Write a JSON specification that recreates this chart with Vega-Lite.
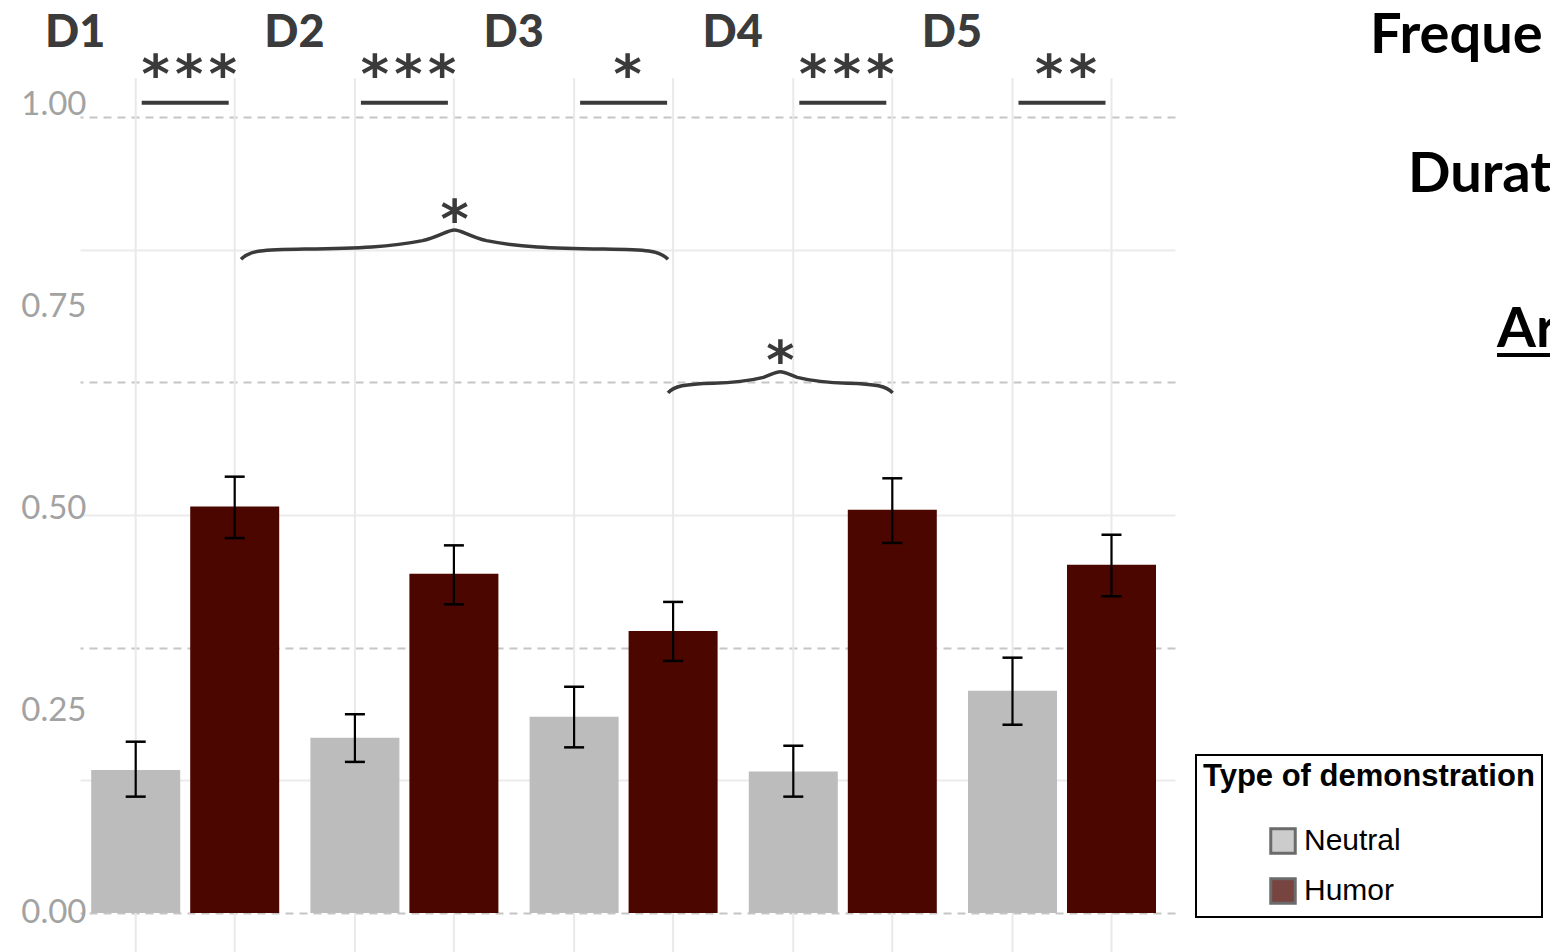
{
  "$schema": "https://vega.github.io/schema/vega-lite/v6.json",
  "autosize": {"type": "none"},
  "padding": {"left": 80, "top": 0, "right": 375, "bottom": 0},
  "width": 1095,
  "height": 952,
  "background": "white",
  "config": {"view": {"stroke": null}, "legend": {"strokeWidth": 2}},
  "datasets": {
    "bars": [
      {"group": "D1", "type": "Neutral", "mean": 0.177, "lo": 0.144, "hi": 0.212},
      {"group": "D1", "type": "Humor", "mean": 0.503, "lo": 0.464, "hi": 0.540},
      {"group": "D2", "type": "Neutral", "mean": 0.217, "lo": 0.187, "hi": 0.246},
      {"group": "D2", "type": "Humor", "mean": 0.420, "lo": 0.382, "hi": 0.455},
      {"group": "D3", "type": "Neutral", "mean": 0.243, "lo": 0.205, "hi": 0.280},
      {"group": "D3", "type": "Humor", "mean": 0.349, "lo": 0.312, "hi": 0.385},
      {"group": "D4", "type": "Neutral", "mean": 0.175, "lo": 0.144, "hi": 0.207},
      {"group": "D4", "type": "Humor", "mean": 0.499, "lo": 0.458, "hi": 0.538},
      {"group": "D5", "type": "Neutral", "mean": 0.275, "lo": 0.233, "hi": 0.316},
      {"group": "D5", "type": "Humor", "mean": 0.431, "lo": 0.392, "hi": 0.468}
    ],
    "sig": [
      {"group": "D1", "stars": "*\u200a*\u200a*"},
      {"group": "D2", "stars": "*\u200a*\u200a*"},
      {"group": "D3", "stars": "*"},
      {"group": "D4", "stars": "*\u200a*\u200a*"},
      {"group": "D5", "stars": "*\u200a*"}
    ],
    "side": [
      {"label": "Freque", "x": 1.1781, "y": 1.0644},
      {"label": "Durat", "x": 1.2128, "y": 0.8923},
      {"label": "Ar", "x": 1.2941, "y": 0.7005}
    ]
  },
  "layer": [
    {
      "layer": [
        {
          "data": {"name": "bars"},
          "mark": {"type": "rule", "color": "#e9e9e9", "strokeWidth": 2},
          "encoding": {
            "x": {"field": "group", "type": "nominal", "axis": null, "title": null,
                  "scale": {"domain": ["D1", "D2", "D3", "D4", "D5"], "range": [0, 1087.2], "paddingInner": 0.1423, "paddingOuter": 0.0511}},
            "xOffset": {"field": "type", "type": "nominal", "scale": {"domain": ["Neutral", "Humor"], "paddingInner": 0.101, "paddingOuter": 0}},
            "y": {"datum": 1.033, "type": "quantitative", "title": null,
                  "scale": {"domain": [-0.04827, 1.12995], "nice": false, "zero": false},
                  "axis": {"orient": "left", "values": [0, 0.25, 0.5, 0.75, 1], "format": ".2f", "grid": false, "domain": false, "ticks": false, "tickSize": 0, "labelPadding": -6, "labelFont": "Lato", "labelFontSize": 33, "labelColor": "#a2a2a2", "title": null}},
            "y2": {"datum": -0.06}
          }
        },
        {
          "data": {"name": "bars"},
          "mark": {"type": "bar"},
          "encoding": {
            "x": {"field": "group", "type": "nominal", "axis": null, "title": null},
            "xOffset": {"field": "type", "type": "nominal"},
            "y": {"field": "mean", "type": "quantitative", "title": null},
            "color": {"field": "type", "type": "nominal",
                      "scale": {"domain": ["Neutral", "Humor"], "range": ["#bcbcbc", "#4b0600"]},
                      "legend": {"title": "Type of demonstration", "orient": "none", "legendX": 1116, "legendY": 755, "direction": "vertical",
                                 "strokeColor": "black", "fillColor": "white", "padding": 7,
                                 "titleFont": "Liberation Sans", "titleFontSize": 31, "titleFontWeight": "bold", "titleColor": "black", "titlePadding": 33, "titleLimit": 600,
                                 "labelFont": "Liberation Sans", "labelFontSize": 30, "labelColor": "black", "labelLimit": 400,
                                 "symbolType": "square", "symbolSize": 600, "symbolStrokeWidth": 3, "symbolStrokeColor": "#3a3a3a", "symbolOpacity": 0.75,
                                 "symbolOffset": 65, "labelOffset": 6, "rowPadding": 12}}
          }
        },
        {
          "data": {"name": "bars"},
          "mark": {"type": "rule", "color": "black", "strokeWidth": 2.2},
          "encoding": {
            "x": {"field": "group", "type": "nominal", "axis": null, "title": null},
            "xOffset": {"field": "type", "type": "nominal"},
            "y": {"field": "lo", "type": "quantitative", "title": null},
            "y2": {"field": "hi"}
          }
        },
        {
          "data": {"name": "bars"},
          "mark": {"type": "tick", "color": "black", "opacity": 1, "size": 20, "thickness": 2.5, "orient": "horizontal"},
          "encoding": {
            "x": {"field": "group", "type": "nominal", "axis": null, "title": null},
            "xOffset": {"field": "type", "type": "nominal"},
            "y": {"field": "lo", "type": "quantitative", "title": null}
          }
        },
        {
          "data": {"name": "bars"},
          "mark": {"type": "tick", "color": "black", "opacity": 1, "size": 20, "thickness": 2.5, "orient": "horizontal"},
          "encoding": {
            "x": {"field": "group", "type": "nominal", "axis": null, "title": null},
            "xOffset": {"field": "type", "type": "nominal"},
            "y": {"field": "hi", "type": "quantitative", "title": null}
          }
        },
        {
          "data": {"name": "sig"},
          "mark": {"type": "tick", "color": "#3a3a3a", "opacity": 1, "size": 87, "thickness": 4, "orient": "horizontal"},
          "encoding": {
            "x": {"field": "group", "type": "nominal", "axis": null, "title": null},
            "y": {"datum": 1.0028, "type": "quantitative", "title": null}
          }
        },
        {
          "data": {"name": "sig"},
          "mark": {"type": "text", "font": "DejaVu Sans", "fontWeight": "bold", "fontSize": 54, "color": "#3a3a3a", "baseline": "alphabetic", "align": "center", "dx": 4},
          "encoding": {
            "x": {"field": "group", "type": "nominal", "axis": null, "title": null},
            "y": {"datum": 1.0149, "type": "quantitative", "title": null},
            "text": {"field": "stars"}
          }
        },
        {
          "data": {"name": "sig"},
          "mark": {"type": "text", "font": "Lato Black, Lato", "fontWeight": 900, "fontSize": 45, "color": "#3b3b3b", "baseline": "middle", "align": "center", "dx": -16},
          "encoding": {
            "x": {"field": "group", "type": "nominal", "axis": null, "title": null, "bandPosition": 0},
            "y": {"datum": 1.089, "type": "quantitative", "title": null},
            "text": {"field": "group"}
          }
        },
        {
          "data": {"values": [{"group": "D2", "star": "*"}]},
          "layer": [
            {
              "mark": {"type": "point", "filled": false, "color": "#3a3a3a", "strokeWidth": 3.5, "opacity": 1, "size": 182329,
                       "shape": "M -1 0.062 C -0.96 0.02 -0.9 0.017 -0.7 0.014 C -0.45 0.01 -0.3 0.005 -0.15 -0.025 C -0.07 -0.045 -0.03 -0.075 0 -0.075 C 0.03 -0.075 0.07 -0.045 0.15 -0.025 C 0.3 0.005 0.45 0.01 0.7 0.014 C 0.9 0.017 0.96 0.02 1 0.062"},
              "encoding": {
                "x": {"field": "group", "type": "nominal", "axis": null, "title": null, "bandPosition": 0.7665},
                "y": {"datum": 0.8255, "type": "quantitative", "title": null}
              }
            },
            {
              "mark": {"type": "text", "font": "DejaVu Sans", "fontWeight": "bold", "fontSize": 54, "color": "#3a3a3a", "baseline": "alphabetic", "align": "center"},
              "encoding": {
                "x": {"field": "group", "type": "nominal", "axis": null, "title": null, "bandPosition": 0.7665},
                "y": {"datum": 0.8354, "type": "quantitative", "title": null},
                "text": {"field": "star"}
              }
            }
          ]
        },
        {
          "data": {"values": [{"group": "D4", "star": "*"}]},
          "layer": [
            {
              "mark": {"type": "point", "filled": false, "color": "#3a3a3a", "strokeWidth": 3.5, "opacity": 1, "size": 50445,
                       "shape": "M -1 0.089 C -0.95 0.03 -0.85 0.008 -0.6 0.002 C -0.4 -0.002 -0.27 -0.02 -0.15 -0.05 C -0.08 -0.075 -0.04 -0.1 0 -0.1 C 0.04 -0.1 0.08 -0.075 0.15 -0.05 C 0.27 -0.02 0.4 -0.002 0.6 0.002 C 0.85 0.008 0.95 0.03 1 0.089"},
              "encoding": {
                "x": {"field": "group", "type": "nominal", "axis": null, "title": null, "bandPosition": 0.1676},
                "y": {"datum": 0.656, "type": "quantitative", "title": null}
              }
            },
            {
              "mark": {"type": "text", "font": "DejaVu Sans", "fontWeight": "bold", "fontSize": 54, "color": "#3a3a3a", "baseline": "alphabetic", "align": "center"},
              "encoding": {
                "x": {"field": "group", "type": "nominal", "axis": null, "title": null, "bandPosition": 0.1676},
                "y": {"datum": 0.6603, "type": "quantitative", "title": null},
                "text": {"field": "star"}
              }
            }
          ]
        }
      ]
    },
    {
      "layer": [
        {
          "data": {"name": "side"},
          "mark": {"type": "text", "font": "Lato", "fontSize": 56, "fontWeight": "bold", "align": "left", "baseline": "alphabetic", "color": "black"},
          "encoding": {
            "x": {"field": "x", "type": "quantitative", "axis": null, "title": null, "scale": {"domain": [0, 1], "nice": false, "zero": false}},
            "y": {"field": "y", "type": "quantitative", "title": null,
                  "scale": {"domain": [-0.04827, 1.12995], "nice": false, "zero": false},
                  "axis": {"orient": "right", "labels": false, "ticks": false, "domain": false, "grid": true, "title": null,
                           "values": [0, 0.16419, 0.32838, 0.49257, 0.65676, 0.82095, 0.98514],
                           "gridWidth": 2,
                           "gridDash": {"condition": {"test": "datum.value < 0.01 || abs(datum.value - 0.32838) < 0.01 || abs(datum.value - 0.65676) < 0.01 || abs(datum.value - 0.98514) < 0.01", "value": [8, 6]}, "value": []},
                           "gridColor": {"condition": {"test": "datum.value < 0.01 || abs(datum.value - 0.32838) < 0.01 || abs(datum.value - 0.65676) < 0.01 || abs(datum.value - 0.98514) < 0.01", "value": "#c6c6c6"}, "value": "#ebebeb"}}},
            "text": {"field": "label"}
          }
        },
        {
          "data": {"values": [{"mark": "underline"}]},
          "mark": {"type": "rule", "color": "black", "strokeWidth": 4},
          "encoding": {
            "x": {"datum": 1.2941, "type": "quantitative"},
            "x2": {"datum": 1.43},
            "y": {"datum": 0.6906, "type": "quantitative"}
          }
        }
      ]
    }
  ],
  "resolve": {"scale": {"x": "independent"}, "axis": {"x": "independent", "y": "independent"}}
}
